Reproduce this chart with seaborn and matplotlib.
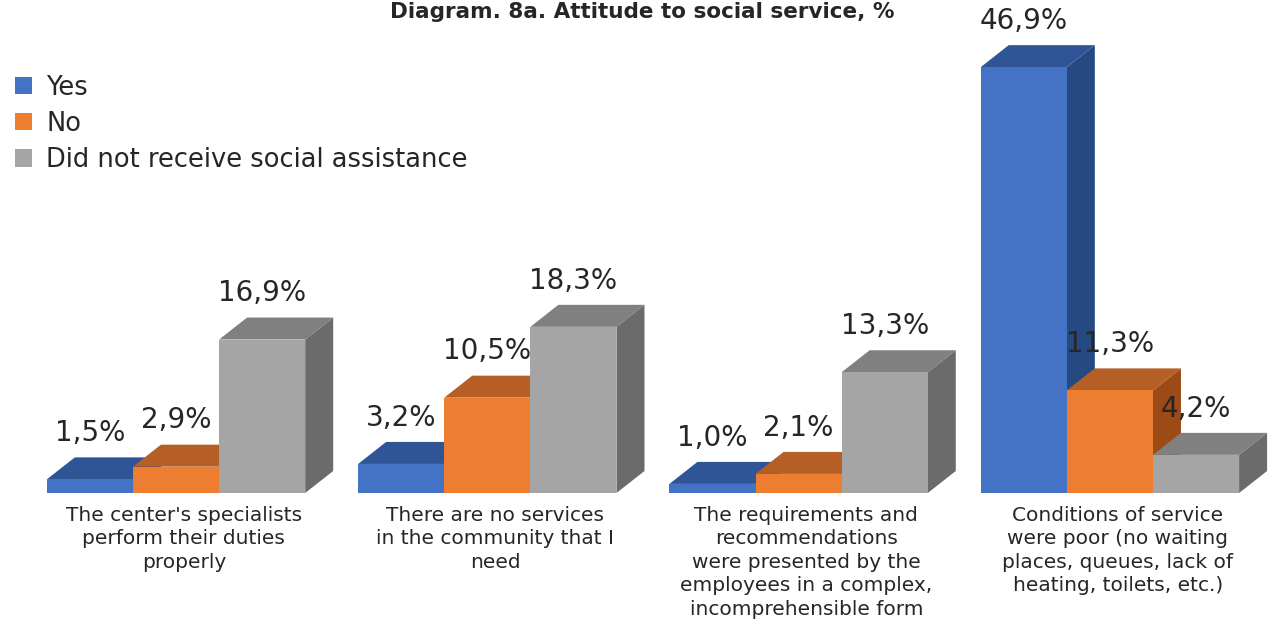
import seaborn as sns
import pandas as pd
import matplotlib.pyplot as plt
from matplotlib.patches import Polygon

categories = [
    "The center's specialists\nperform their duties\nproperly",
    "There are no services\nin the community that I\nneed",
    "The requirements and\nrecommendations\nwere presented by the\nemployees in a complex,\nincomprehensible form",
    "Conditions of service\nwere poor (no waiting\nplaces, queues, lack of\nheating, toilets, etc.)",
]
series = ["Yes", "No", "Did not receive social assistance"]
yes_vals = [1.5, 3.2, 1.0, 46.9]
no_vals = [2.9, 10.5, 2.1, 11.3]
none_vals = [16.9, 18.3, 13.3, 4.2]
value_labels = [["1,5%", "3,2%", "1,0%", "46,9%"],
                ["2,9%", "10,5%", "2,1%", "11,3%"],
                ["16,9%", "18,3%", "13,3%", "4,2%"]]

colors = ["#4472C4", "#ED7D31", "#A5A5A5"]
top_colors = ["#2F5597", "#B55F27", "#808080"]
side_colors = ["#254A82", "#9C4A16", "#6B6B6B"]

df = pd.DataFrame({
    "category": categories * 3,
    "series": [s for s in series for _ in categories],
    "value": yes_vals + no_vals + none_vals,
})

sns.set_style("white")
plt.rcParams['font.family'] = ['DejaVu Sans']

fig = plt.figure(figsize=(12.71, 6.22), dpi=100)
ax = fig.add_axes([0, 0, 1, 1])
sns.barplot(data=df, x="category", y="value", hue="series", hue_order=series,
            palette=colors, width=0.83, saturation=1, ax=ax, legend=True,
            edgecolor="none", linewidth=0)

px_per_unit_y = 9.08
ax.set_ylim(-129 / px_per_unit_y, 493 / px_per_unit_y)
ax.set_xlim(-176 / 311.3, (1271 - 176) / 311.3)
ax.axis("off")

# depth of the 3D look, in data units
dx = 28 / 311.3
dy = 22 / px_per_unit_y

# patches come hue-major: index = hue * n_cat + cat
n_cat = len(categories)
bars = []
for i, p in enumerate(ax.patches[:3 * n_cat]):
    bars.append((p.get_x(), p, i // n_cat, i % n_cat))
bars.sort(key=lambda b: b[0])

for k, (x0, p, h_idx, c_idx) in enumerate(bars):
    w = p.get_width()
    h = p.get_height()
    x1 = x0 + w
    z = 3 + 3 * k
    side = Polygon([(x1, 0), (x1 + dx, dy), (x1 + dx, h + dy), (x1, h)],
                   closed=True, facecolor=side_colors[h_idx], edgecolor="none", zorder=z)
    top = Polygon([(x0, h), (x1, h), (x1 + dx, h + dy), (x0 + dx, h + dy)],
                  closed=True, facecolor=top_colors[h_idx], edgecolor="none", zorder=z + 1)
    ax.add_patch(side)
    ax.add_patch(top)
    p.set_zorder(z + 2)
    ax.text(x0 + w / 2, h + 5.1, value_labels[h_idx][c_idx], ha="center", va="center",
            fontsize=20, color="#262626", zorder=100)

for c_idx, cat in enumerate(categories):
    ax.text(c_idx + dx / 2 - 0.02, -1.4, cat, ha="center", va="top", fontsize=14.5,
            color="#262626", linespacing=1.3)

sns.move_legend(ax, loc="upper left", bbox_to_anchor=(0.0, 0.905), frameon=False,
                title=None, fontsize=18.5, handlelength=0.65, handleheight=0.65,
                handletextpad=0.55, labelspacing=0.4, borderaxespad=0.2)
for t in ax.get_legend().get_texts():
    t.set_color("#262626")

fig.text(0.505, 1 - 2 / 622, "Diagram. 8a. Attitude to social service, %",
         ha="center", va="top", fontsize=15.5, fontweight="bold", color="#262626")

fig.savefig("out.png", dpi=100)
